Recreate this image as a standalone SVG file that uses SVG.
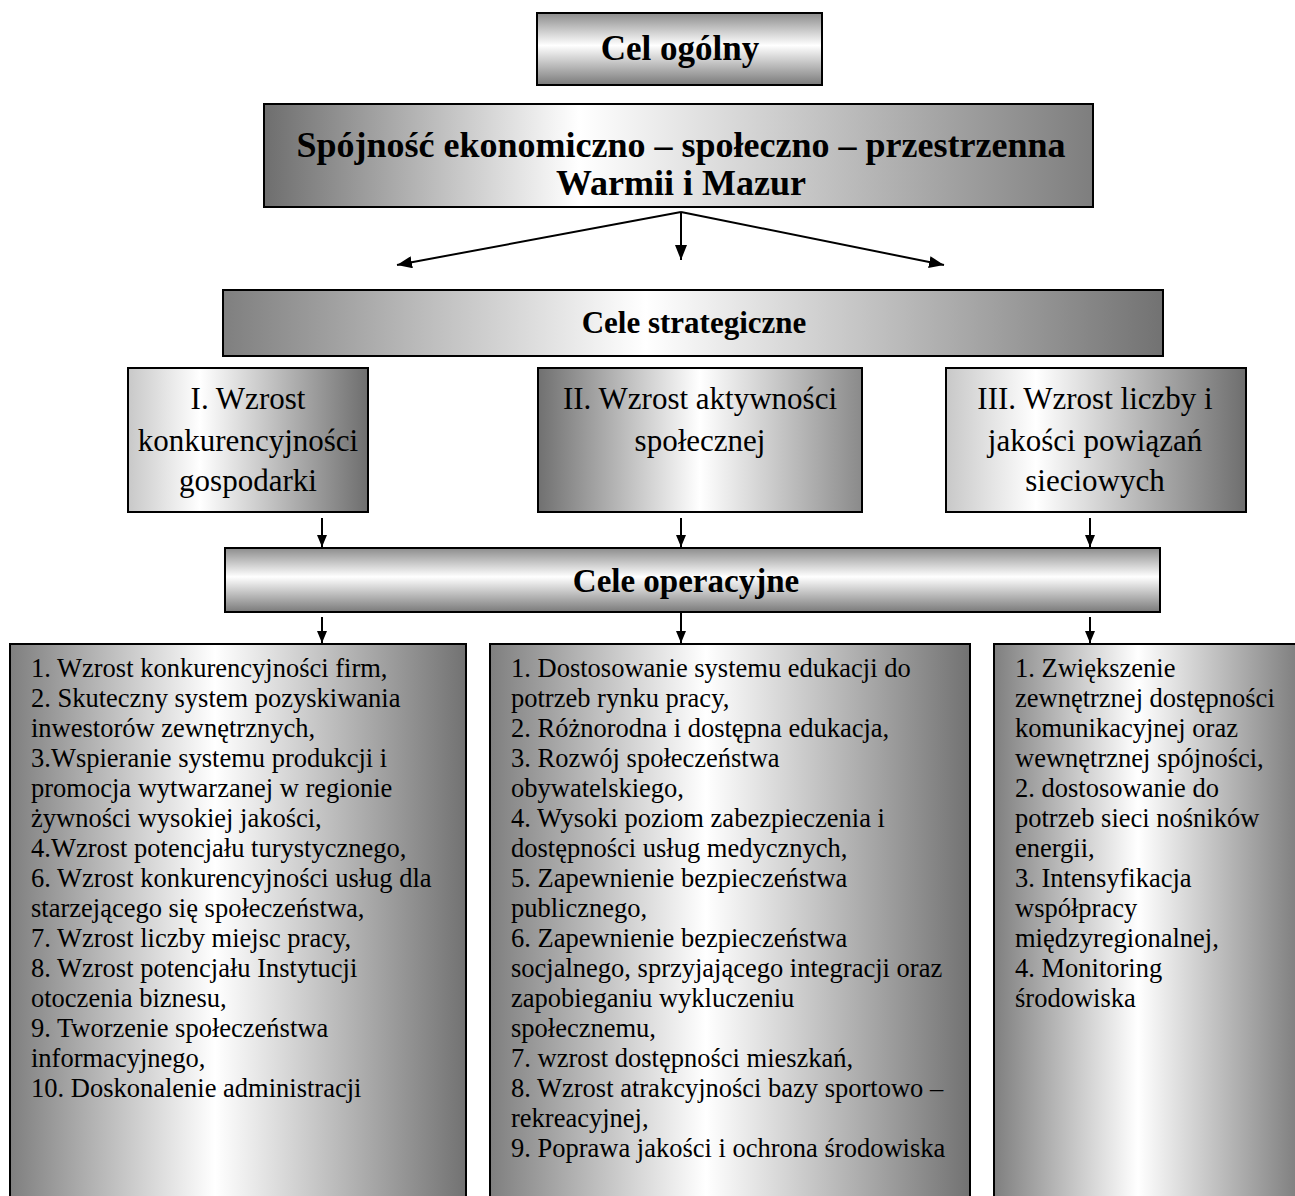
<svg xmlns="http://www.w3.org/2000/svg" width="1295" height="1196" viewBox="0 0 1295 1196">
  <defs>
    <linearGradient id="gv" x1="0" y1="0" x2="0" y2="1">
      <stop offset="0" stop-color="#8c8c8c"/>
      <stop offset="0.45" stop-color="#ffffff"/>
      <stop offset="1" stop-color="#7a7a7a"/>
    </linearGradient>
    <linearGradient id="gh" x1="0" y1="0" x2="1" y2="0">
      <stop offset="0" stop-color="#7f7f7f"/>
      <stop offset="0.45" stop-color="#ffffff"/>
      <stop offset="1" stop-color="#727272"/>
    </linearGradient>
    <linearGradient id="gmain" x1="0" y1="0" x2="1" y2="0">
      <stop offset="0" stop-color="#6e6e6e"/>
      <stop offset="0.38" stop-color="#ffffff"/>
      <stop offset="1" stop-color="#7e7e7e"/>
    </linearGradient>
    <linearGradient id="gside" x1="0" y1="0" x2="1" y2="0">
      <stop offset="0" stop-color="#c8c8c8"/>
      <stop offset="0.3" stop-color="#ffffff"/>
      <stop offset="1" stop-color="#6e6e6e"/>
    </linearGradient>
    <linearGradient id="gmid" x1="0" y1="0" x2="1" y2="0">
      <stop offset="0" stop-color="#707070"/>
      <stop offset="0.5" stop-color="#ffffff"/>
      <stop offset="1" stop-color="#8a8a8a"/>
    </linearGradient>
    <marker id="ah" viewBox="0 0 12 10" refX="12" refY="5" markerWidth="12" markerHeight="10" markerUnits="userSpaceOnUse" orient="auto">
      <path d="M0,0 L12,5 L0,10 z" fill="#000"/>
    </marker>
    <marker id="ahl" viewBox="0 0 15 12" refX="15" refY="6" markerWidth="15" markerHeight="12" markerUnits="userSpaceOnUse" orient="auto">
      <path d="M0,0 L15,6 L0,12 z" fill="#000"/>
    </marker>
  </defs>
  <style>
    .box { stroke: #000; stroke-width: 2; }
    .tb { font-family: "Liberation Serif", "Times New Roman", serif; font-weight: bold; fill: #000; text-anchor: middle; }
    .tr { font-family: "Liberation Serif", "Times New Roman", serif; fill: #000; text-anchor: middle; font-size: 31px; }
    .tl { font-family: "Liberation Serif", "Times New Roman", serif; fill: #000; font-size: 26.5px; }
    .con { stroke: #000; stroke-width: 2; fill: none; }
  </style>

  <g id="connectors">
    <line class="con" x1="681" y1="212" x2="397" y2="265" marker-end="url(#ahl)"/>
    <line class="con" x1="681" y1="212" x2="681" y2="260" marker-end="url(#ahl)"/>
    <line class="con" x1="681" y1="212" x2="944" y2="265" marker-end="url(#ahl)"/>
    <line class="con" x1="322" y1="518" x2="322" y2="547" marker-end="url(#ah)"/>
    <line class="con" x1="681" y1="518" x2="681" y2="547" marker-end="url(#ah)"/>
    <line class="con" x1="1090" y1="518" x2="1090" y2="547" marker-end="url(#ah)"/>
    <line class="con" x1="322" y1="617" x2="322" y2="643" marker-end="url(#ah)"/>
    <line class="con" x1="681" y1="595" x2="681" y2="643" marker-end="url(#ah)"/>
    <line class="con" x1="1090" y1="617" x2="1090" y2="643" marker-end="url(#ah)"/>
  </g>

  <g id="cel-ogolny">
    <rect class="box" x="537" y="13" width="285" height="72" fill="url(#gv)"/>
    <text class="tb" x="680" y="60" font-size="35">Cel ogólny</text>
  </g>

  <g id="spojnosc">
    <rect class="box" x="264" y="104" width="829" height="103" fill="url(#gmain)"/>
    <text class="tb" x="681" y="157" font-size="36">Spójność ekonomiczno – społeczno – przestrzenna</text>
    <text class="tb" x="681" y="195" font-size="36">Warmii i Mazur</text>
  </g>

  <g id="cele-strategiczne">
    <rect class="box" x="223" y="290" width="940" height="66" fill="url(#gh)"/>
    <text class="tb" x="694" y="333" font-size="31">Cele strategiczne</text>
  </g>

  <g id="strat-1">
    <rect class="box" x="128" y="368" width="240" height="144" fill="url(#gside)"/>
    <text class="tr" x="248" y="409">I. Wzrost</text>
    <text class="tr" x="248" y="451">konkurencyjności</text>
    <text class="tr" x="248" y="491">gospodarki</text>
  </g>

  <g id="strat-2">
    <rect class="box" x="538" y="368" width="324" height="144" fill="url(#gmid)"/>
    <text class="tr" x="700" y="409">II. Wzrost aktywności</text>
    <text class="tr" x="700" y="451">społecznej</text>
  </g>

  <g id="strat-3">
    <rect class="box" x="946" y="368" width="300" height="144" fill="url(#gside)"/>
    <text class="tr" x="1095" y="409">III. Wzrost liczby i</text>
    <text class="tr" x="1095" y="451">jakości powiązań</text>
    <text class="tr" x="1095" y="491">sieciowych</text>
  </g>

  <g id="cele-operacyjne">
    <rect class="box" x="225" y="548" width="935" height="64" fill="url(#gv)"/>
    <text class="tb" x="686" y="592" font-size="33">Cele operacyjne</text>
  </g>

  <g id="oper-1">
    <rect class="box" x="10" y="644" width="456" height="560" fill="url(#gh)"/>
    <text class="tl">
      <tspan x="31" y="677">1. Wzrost konkurencyjności firm,</tspan>
      <tspan x="31" y="707">2. Skuteczny system pozyskiwania</tspan>
      <tspan x="31" y="737">inwestorów zewnętrznych,</tspan>
      <tspan x="31" y="767">3.Wspieranie systemu produkcji i</tspan>
      <tspan x="31" y="797">promocja wytwarzanej w regionie</tspan>
      <tspan x="31" y="827">żywności wysokiej jakości,</tspan>
      <tspan x="31" y="857">4.Wzrost potencjału turystycznego,</tspan>
      <tspan x="31" y="887">6. Wzrost konkurencyjności usług dla</tspan>
      <tspan x="31" y="917">starzejącego się społeczeństwa,</tspan>
      <tspan x="31" y="947">7. Wzrost liczby miejsc pracy,</tspan>
      <tspan x="31" y="977">8. Wzrost potencjału Instytucji</tspan>
      <tspan x="31" y="1007">otoczenia biznesu,</tspan>
      <tspan x="31" y="1037">9. Tworzenie społeczeństwa</tspan>
      <tspan x="31" y="1067">informacyjnego,</tspan>
      <tspan x="31" y="1097">10. Doskonalenie administracji</tspan>
    </text>
  </g>

  <g id="oper-2">
    <rect class="box" x="490" y="644" width="480" height="560" fill="url(#gh)"/>
    <text class="tl">
      <tspan x="511" y="677">1. Dostosowanie systemu edukacji do</tspan>
      <tspan x="511" y="707">potrzeb rynku pracy,</tspan>
      <tspan x="511" y="737">2. Różnorodna i dostępna edukacja,</tspan>
      <tspan x="511" y="767">3. Rozwój społeczeństwa</tspan>
      <tspan x="511" y="797">obywatelskiego,</tspan>
      <tspan x="511" y="827">4. Wysoki poziom zabezpieczenia i</tspan>
      <tspan x="511" y="857">dostępności usług medycznych,</tspan>
      <tspan x="511" y="887">5. Zapewnienie bezpieczeństwa</tspan>
      <tspan x="511" y="917">publicznego,</tspan>
      <tspan x="511" y="947">6. Zapewnienie bezpieczeństwa</tspan>
      <tspan x="511" y="977">socjalnego, sprzyjającego integracji oraz</tspan>
      <tspan x="511" y="1007">zapobieganiu wykluczeniu</tspan>
      <tspan x="511" y="1037">społecznemu,</tspan>
      <tspan x="511" y="1067">7. wzrost dostępności mieszkań,</tspan>
      <tspan x="511" y="1097">8. Wzrost atrakcyjności bazy sportowo –</tspan>
      <tspan x="511" y="1127">rekreacyjnej,</tspan>
      <tspan x="511" y="1157">9. Poprawa jakości i ochrona środowiska</tspan>
    </text>
  </g>

  <g id="oper-3">
    <rect class="box" x="994" y="644" width="320" height="560" fill="url(#gh)"/>
    <text class="tl">
      <tspan x="1015" y="677">1. Zwiększenie</tspan>
      <tspan x="1015" y="707">zewnętrznej dostępności</tspan>
      <tspan x="1015" y="737">komunikacyjnej oraz</tspan>
      <tspan x="1015" y="767">wewnętrznej spójności,</tspan>
      <tspan x="1015" y="797">2. dostosowanie do</tspan>
      <tspan x="1015" y="827">potrzeb sieci nośników</tspan>
      <tspan x="1015" y="857">energii,</tspan>
      <tspan x="1015" y="887">3. Intensyfikacja</tspan>
      <tspan x="1015" y="917">współpracy</tspan>
      <tspan x="1015" y="947">międzyregionalnej,</tspan>
      <tspan x="1015" y="977">4. Monitoring</tspan>
      <tspan x="1015" y="1007">środowiska</tspan>
    </text>
  </g>
</svg>
